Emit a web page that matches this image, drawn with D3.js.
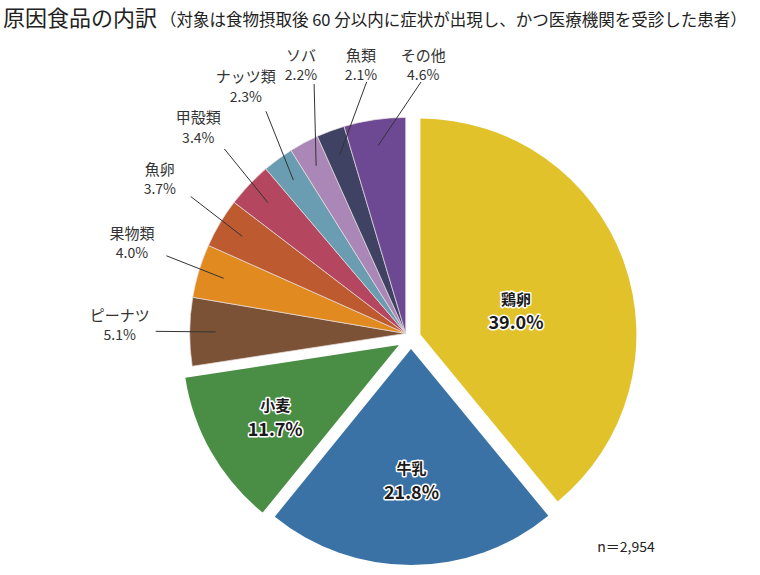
<!DOCTYPE html>
<html>
<head>
<meta charset="utf-8">
<script src="https://cdn.jsdelivr.net/npm/d3@7"></script>
<style>
  body { margin: 0; background: #fff; }
  svg { font-family: "Noto Sans CJK JP", "Noto Sans", sans-serif; }
</style>
</head>
<body>
<svg id="piesvg" width="760" height="575"></svg>
<script>
// 原因食品の内訳 (n=2,954)
var foods = ["鶏卵", "牛乳", "小麦", "ピーナツ", "果物類", "魚卵", "甲殻類", "ナッツ類", "ソバ", "魚類", "その他"];
var shares = [39.0, 21.8, 11.7, 5.1, 4.0, 3.7, 3.4, 2.3, 2.2, 2.1, 4.6];
var colors = ["#e1c22b", "#3a72a6", "#4a8d45", "#7b5235", "#e08a20", "#bd5a2f",
	"#b4475f", "#6a9db2", "#aa87b6", "#3f4263", "#6d4893"];

var svg = d3.select("#piesvg");
var cx = 411, cy = 338, radius = 216;
var bigCount = 3; // 鶏卵・牛乳・小麦 are pulled out one by one, the rest as a group

var data = foods.map(function(f, i) { return {food: f, share: shares[i]}; });

var pie = d3.pie()
	.sort(null)
	.value(function(d) { return d.share; });
var arcs = pie(data);

var arc = d3.arc()
	.innerRadius(0)
	.outerRadius(radius);

function polar(a, r) {
	return [Math.sin(a) * r, -Math.cos(a) * r];
}

// group of small slices shares one offset
var groupMid = (arcs[bigCount].startAngle + arcs[arcs.length - 1].endAngle) / 2;
var explode = [10, 11, 14];

function sliceCenter(d, i) {
	var a, dist;
	if (i < bigCount) {
		a = (d.startAngle + d.endAngle) / 2;
		dist = explode[i];
	} else {
		a = groupMid;
		dist = 7;
	}
	var p = polar(a, dist);
	return [cx + p[0], cy + p[1]];
}

svg.selectAll(".slice")
	.data(arcs)
	.enter()
	.append("path")
	.attr("class", "slice")
	.attr("transform", function(d, i) { return "translate(" + sliceCenter(d, i) + ")"; })
	.attr("d", arc)
	.attr("fill", function(d, i) { return colors[i]; })
	.attr("stroke", function(d, i) { return i < bigCount ? "none" : "#e8e0e0"; })
	.attr("stroke-width", 0.7)
	.attr("stroke-linejoin", "round");

// inside labels for the three big slices
var labelFrac = [0.47, 0.6, 0.66];
var labelNudge = [9, 0, 0];
var inside = svg.selectAll(".inlabel")
	.data(arcs.slice(0, bigCount))
	.enter()
	.append("g")
	.attr("class", "inlabel")
	.attr("transform", function(d, i) {
		var c = sliceCenter(d, i);
		var p = polar((d.startAngle + d.endAngle) / 2, radius * labelFrac[i]);
		return "translate(" + (c[0] + p[0]) + "," + (c[1] + p[1] + labelNudge[i]) + ")";
	});

inside.append("text")
	.attr("y", -11)
	.text(function(d) { return d.data.food; })
	.style("font-size", "15px");
inside.append("text")
	.attr("y", 12)
	.text(function(d) { return d.data.share.toFixed(1) + "%"; })
	.style("font-size", "18px");

inside.selectAll("text")
	.attr("text-anchor", "middle")
	.attr("dominant-baseline", "central")
	.attr("font-weight", "bold")
	.attr("fill", "#1a1a1a")
	.attr("stroke", "#fff")
	.attr("stroke-width", 3)
	.attr("stroke-linejoin", "round")
	.style("paint-order", "stroke");

// outside labels: spread the angles so they don't collide
var small = arcs.slice(bigCount);
var gc = sliceCenter(small[0], bigCount);
var minGap = 12.5 * Math.PI / 180;
var topLimit = 64;
var prev = -Infinity;
small.forEach(function(d) {
	d.mid = (d.startAngle + d.endAngle) / 2;
	d.labelAngle = Math.max(d.mid, prev + minGap);
	prev = d.labelAngle;
	var s = Math.sin(d.labelAngle), c = Math.cos(d.labelAngle);
	// labels sit on an ellipse round the group, kept under the title
	d.lx = gc[0] + s * 286;
	var ly = gc[1] - c * 290 - 7;
	d.clamped = ly < topLimit;
	d.ly = Math.max(ly, topLimit);
	d.ox = gc[0] + s * 250;
	d.oy = gc[1] - c * 268;
	if (d.clamped) d.oy = Math.max(d.oy, d.ly + 18);
	var n = polar(d.mid, radius * 0.88);
	d.nx = gc[0] + n[0];
	d.ny = gc[1] + n[1];
});

svg.selectAll(".leader")
	.data(small)
	.enter()
	.append("line")
	.attr("class", "leader")
	.attr("x1", function(d) { return d.nx; })
	.attr("y1", function(d) { return d.ny; })
	.attr("x2", function(d) { return d.ox; })
	.attr("y2", function(d) { return d.oy; })
	.attr("stroke", "#333")
	.attr("stroke-width", 1);

var outside = svg.selectAll(".outlabel")
	.data(small)
	.enter()
	.append("g")
	.attr("class", "outlabel")
	.attr("transform", function(d) { return "translate(" + d.lx + "," + d.ly + ")"; });

outside.append("text")
	.attr("y", -10)
	.text(function(d) { return d.data.food; })
	.style("font-size", "15px");
outside.append("text")
	.attr("y", 10)
	.text(function(d) { return d.data.share.toFixed(1) + "%"; })
	.style("font-size", "14px");
outside.selectAll("text")
	.attr("text-anchor", "middle")
	.attr("dominant-baseline", "central")
	.attr("fill", "#333");

// title
var title = svg.append("text")
	.attr("x", 3)
	.attr("y", 26)
	.attr("fill", "#222");
title.append("tspan")
	.style("font-size", "22px")
	.text("原因食品の内訳");
title.append("tspan")
	.style("font-size", "16.5px")
	.attr("dx", 3)
	.text("（対象は食物摂取後 60 分以内に症状が出現し、かつ医療機関を受診した患者）");

svg.append("text")
	.attr("x", 626)
	.attr("y", 552)
	.attr("text-anchor", "middle")
	.attr("fill", "#222")
	.style("font-size", "14px")
	.text("n＝2,954");
</script>
</body>
</html>
